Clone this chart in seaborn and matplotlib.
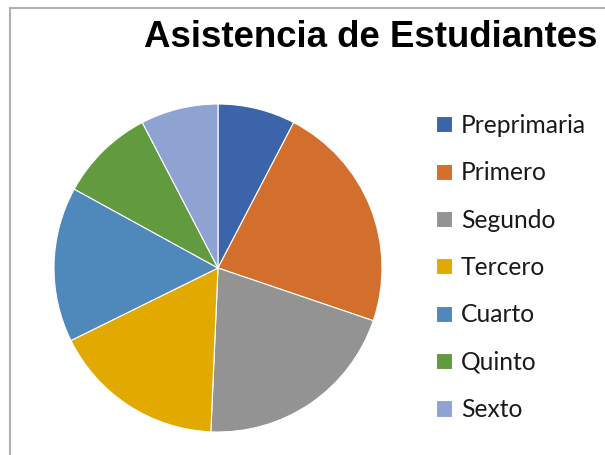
import seaborn as sns
import matplotlib.pyplot as plt
from matplotlib.patches import Rectangle

grados = ['Preprimaria', 'Primero', 'Segundo', 'Tercero', 'Cuarto', 'Quinto', 'Sexto']
asistencia = [22, 65, 59, 49, 44, 27, 22]
colores = ['#3C64AB', '#D36F2C', '#939393', '#E2AA00', '#4F89BB', '#629A40', '#8FA3D3']

sns.set_theme(style='white')
plt.rcParams['font.family'] = ['Liberation Sans', 'DejaVu Sans']

W, H = 605, 455
fig = plt.figure(figsize=(W / 100, H / 100), dpi=100)

# chart area border (only top and left edges are visible in the crop)
fig.patches.append(Rectangle((9.5 / W, -0.1), 1.2, (H - 8) / H + 0.1,
                             transform=fig.transFigure, fill=False,
                             edgecolor='#B0B0B0', linewidth=1.5))

cx, cy, r = 218, H - 268, 164
ax = fig.add_axes([(cx - r) / W, (cy - r) / H, 2 * r / W, 2 * r / H])
wedges, _ = ax.pie(asistencia, colors=colores, startangle=90, counterclock=False,
                   wedgeprops=dict(edgecolor='white', linewidth=0.8))
ax.set_xlim(-1, 1)
ax.set_ylim(-1, 1)
ax.set_aspect('equal')
ax.axis('off')

fig.text(144 / W, 1 - 46.7 / H, 'Asistencia de Estudiantes', fontsize=26.4,
         fontweight='bold', color='black', ha='left', va='baseline')

leg = fig.legend(wedges, grados, loc='upper left',
                 bbox_to_anchor=(436 / W, 1 - 114 / H),
                 frameon=False, borderpad=0, borderaxespad=0,
                 handlelength=0.64, handleheight=0.64, handletextpad=0.38,
                 labelspacing=0.99,
                 prop={'family': 'Lato', 'size': 17.7})
for t in leg.get_texts():
    t.set_color('#1A1A1A')

fig.savefig('out.png', dpi=100, facecolor='white')
